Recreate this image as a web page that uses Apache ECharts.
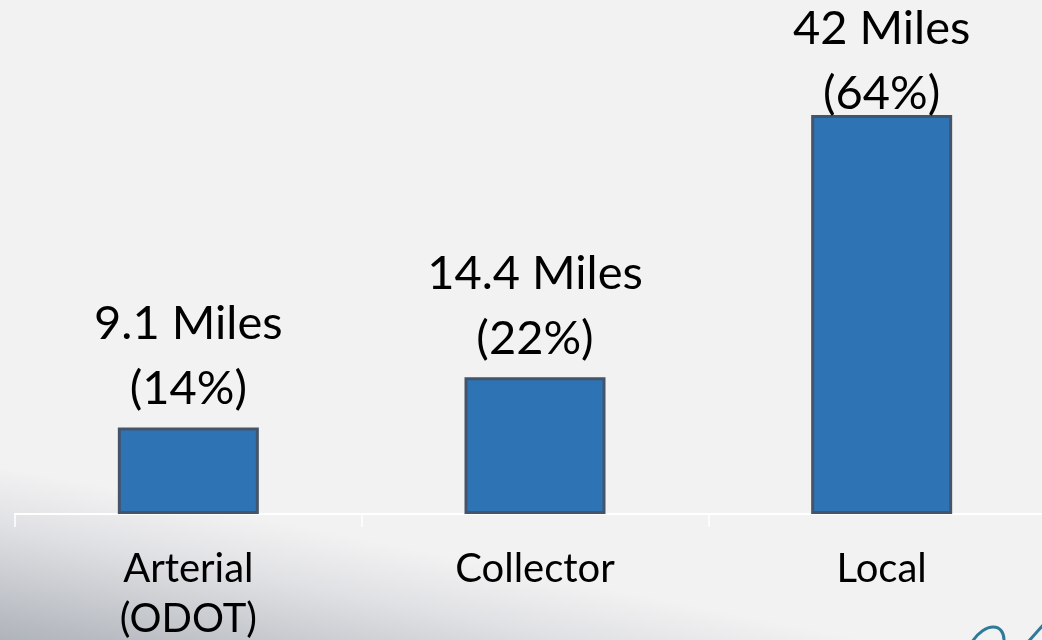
<!DOCTYPE html>
<html>
<head>
<meta charset="utf-8">
<script src="https://cdn.jsdelivr.net/npm/echarts@6/dist/echarts.min.js"></script>
<style>
html,body{margin:0;padding:0;background:#f2f2f2;}
#chart{width:1042px;height:640px;}
</style>
</head>
<body>
<div id="chart"></div>
<script>
const categories = ['Arterial\n(ODOT)', 'Collector', 'Local'];
const miles = [9.1, 14.4, 42];
const shares = [14, 22, 64];

// decorative swoosh outline (cubic bezier sampled)
function bez(p0, p1, p2, p3, n) {
  const pts = [];
  for (let i = 0; i <= n; i++) {
    const t = i / n, u = 1 - t;
    pts.push([
      u*u*u*p0[0] + 3*u*u*t*p1[0] + 3*u*t*t*p2[0] + t*t*t*p3[0],
      u*u*u*p0[1] + 3*u*u*t*p1[1] + 3*u*t*t*p2[1] + t*t*t*p3[1]
    ]);
  }
  return pts;
}
const swoosh = bez([0,470],[250,505],[560,570],[900,640], 40);
swoosh.push([0,640]);

// the tallest bar's label sits closer to its bar (clamped at chart top in original)
const seriesData = miles.map((v, i) => ({
  value: v,
  label: { distance: i === miles.length - 1 ? -11 : 6 }
}));

const chart = echarts.init(document.getElementById('chart'), null, {renderer: 'canvas'});
chart.setOption({
  backgroundColor: '#f2f2f2',
  animation: false,
  graphic: [
    {
      type: 'polygon', z: -10, silent: true,
      shape: { points: swoosh },
      style: {
        fill: new echarts.graphic.LinearGradient(-4, 660, 34, 472, [
          {offset: 0, color: '#a6abb3'},
          {offset: 0.35, color: '#c3c6cb'},
          {offset: 0.7, color: '#e0e1e4'},
          {offset: 1, color: '#f2f2f2'}
        ], true)
      }
    },
    {
      type: 'bezierCurve', z: -5, silent: true,
      shape: { x1: 972, y1: 642, cpx1: 985, cpy1: 622, cpx2: 1005, cpy2: 622, x2: 1004, y2: 642 },
      style: { fill: null, stroke: '#2f7a98', lineWidth: 3 }
    },
    {
      type: 'line', z: -5, silent: true,
      shape: { x1: 1028, y1: 642, x2: 1044, y2: 624 },
      style: { stroke: '#2f7a98', lineWidth: 3 }
    }
  ],
  grid: { left: 15, width: 1040, top: 39, height: 475, containLabel: false, outerBoundsMode: 'none' },
  xAxis: {
    type: 'category',
    data: categories,
    axisLine: { show: true, lineStyle: { color: '#ffffff', width: 2 } },
    axisTick: { show: true, alignWithLabel: false, length: 13, lineStyle: { color: '#ffffff', width: 1.5 } },
    axisLabel: {
      color: '#000000', fontFamily: 'Lato', fontSize: 40, lineHeight: 50, margin: 30,
      interval: 0
    },
    splitLine: { show: false }
  },
  yAxis: {
    type: 'value', min: 0, max: 50, interval: 10,
    show: false
  },
  series: [{
    type: 'bar',
    data: seriesData,
    barWidth: 141,
    itemStyle: { color: '#2e74b5', borderColor: '#44546a', borderWidth: 3 },
    label: {
      show: true, position: 'top', distance: 6,
      color: '#000000', fontFamily: 'Lato', fontSize: 47, lineHeight: 65,
      formatter: (p) => miles[p.dataIndex] + ' Miles\n(' + shares[p.dataIndex] + '%)'
    }
  }]
});
</script>
</body>
</html>
